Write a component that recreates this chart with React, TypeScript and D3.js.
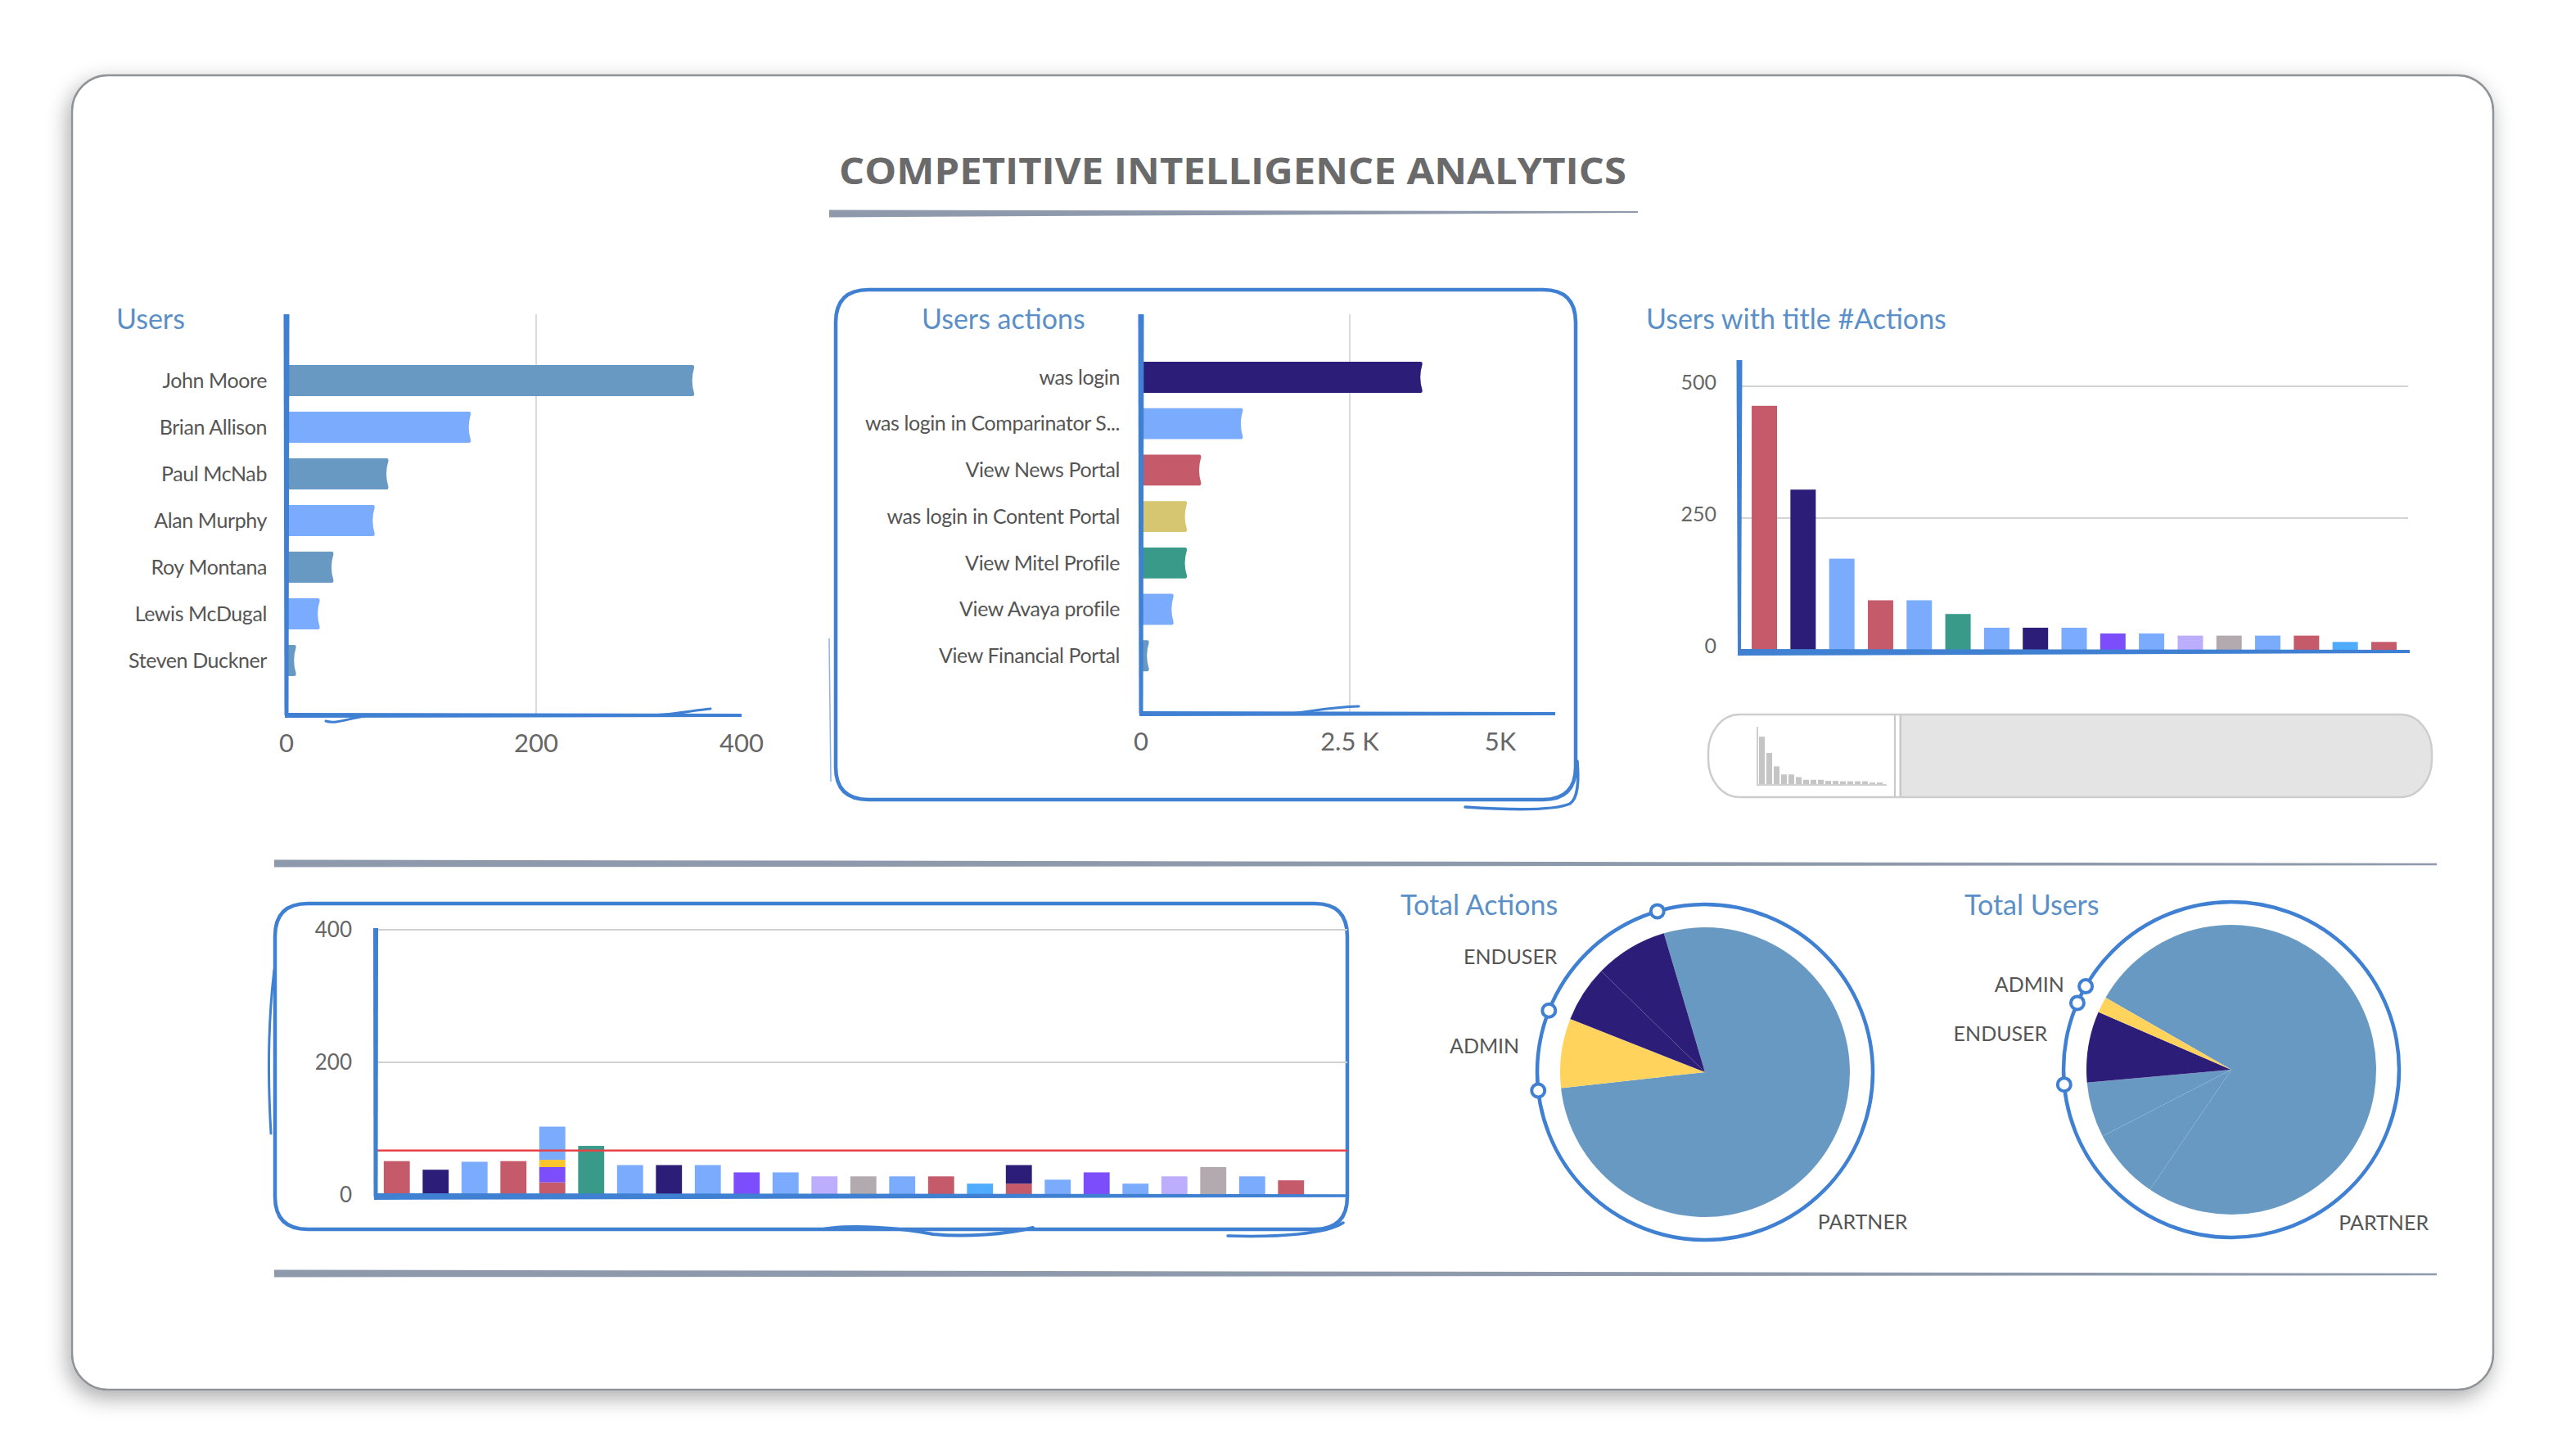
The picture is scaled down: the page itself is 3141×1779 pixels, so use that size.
import React from "react";
import * as d3 from "d3";

// ---------- data ----------
const userNames = ["John Moore", "Brian Allison", "Paul McNab", "Alan Murphy", "Roy Montana", "Lewis McDugal", "Steven Duckner"];
const userActionCounts = [326, 147, 81, 70, 37, 26, 7];
const userColorKeys = ["steel", "light", "steel", "light", "steel", "light", "steel"];
const userTickValues = [0, 200, 400];

const actionNames = ["was login", "was login in Comparinator S...", "View News Portal", "was login in Content Portal", "View Mitel Profile", "View Avaya profile", "View Financial Portal"];
const actionCounts = [3360, 1210, 710, 540, 540, 380, 85];
const actionColorKeys = ["navy", "light", "red", "mustard", "teal", "light", "steel"];
const actionTickValues = [0, 2500, 5000];
const actionTickLabels = ["0", "2.5 K", "5K"];

const titledUserValues = [463, 304, 173, 94, 94, 68, 42, 42, 42, 31, 31, 27, 27, 27, 27, 15, 15];
const titledUserColorKeys = ["red", "navy", "light", "red", "light", "teal", "light", "navy", "light", "purple", "light", "lavender", "gray", "light", "red", "sky", "red"];
const titledTickValues = [0, 250, 500];

const dailySegments = [[51], [38], [50], [51], [19, 23, 11, 50], [74], [45], [45], [45], [34], [34], [28], [28], [28], [28], [17], [17, 28], [23], [34], [17], [28], [42], [28], [22]];
const dailySegmentColors = [["red"], ["navy"], ["light"], ["red"], ["red", "purple", "amber", "light"], ["teal"], ["light"], ["navy"], ["light"], ["purple"], ["light"], ["lavender"], ["gray"], ["light"], ["red"], ["sky"], ["red", "navy"], ["light"], ["purple"], ["light"], ["lavender"], ["gray"], ["light"], ["red"]];
const dailyTickValues = [0, 200, 400];
const dailyThreshold = 67;

const actionRoles = ["PARTNER", "ADMIN", "ENDUSER", "ENDUSER"];
const actionRoleTotals = [5310, 527, 430, 555];
const userRoles = ["PARTNER", "PARTNER", "PARTNER", "ENDUSER", "ADMIN"];
const userRoleTotals = [173, 18, 14, 18, 4];

// ---------- styles ----------
const palette: Record<string, string> = {
  red: "#c55a6a", navy: "#2c1d78", light: "#7aabfd", steel: "#6899c3",
  teal: "#3a9a89", purple: "#7b4dfb", lavender: "#bcadfd", gray: "#b3aaaf",
  sky: "#4fabfe", amber: "#fcc52c", mustard: "#d7c671", yellow: "#ffd35c",
};
const roleColor: Record<string, string> = { PARTNER: "#6899c3", ADMIN: "#ffd35c", ENDUSER: "#2c1d78" };
const BLUE = "#3f80d2";
const FONT = "Lato, 'Open Sans', sans-serif";
const TITLE_COLOR = "#5a8fc7";
const LABEL_COLOR = "#555555";
const TICK_COLOR = "#666666";

function taper(x1: number, y1: number, x2: number, y2: number, w1: number, w2: number) {
  return `M${x1},${y1 - w1 / 2} L${x2},${y2 - w2 / 2} L${x2},${y2 + w2 / 2} L${x1},${y1 + w1 / 2} Z`;
}
function vtaper(x1: number, y1: number, x2: number, y2: number, w1: number, w2: number) {
  return `M${x1 - w1 / 2},${y1} L${x1 + w1 / 2},${y1} L${x2 + w2 / 2},${y2} L${x2 - w2 / 2},${y2} Z`;
}
function roundedPath(x: number, y: number, w: number, h: number, r: number) {
  return `M${x + r},${y} H${x + w - r} Q${x + w},${y} ${x + w},${y + r} V${y + h - r} Q${x + w},${y + h} ${x + w - r},${y + h} H${x + r} Q${x},${y + h} ${x},${y + h - r} V${y + r} Q${x},${y} ${x + r},${y} Z`;
}
function hbarPath(x0: number, x1: number, y: number, h: number) {
  const e = Math.max(x1, x0 + 4);
  return `M${x0},${y} H${e - 1} Q${e + 1},${y} ${e + 1},${y + 3} Q${e - 4},${y + h / 2} ${e + 1},${y + h - 3} Q${e + 1},${y + h} ${e - 1},${y + h} H${x0} Z`;
}

// ---------- horizontal bar chart ----------
function HBarChart(props: {
  names: string[]; values: number[]; colorKeys: string[];
  x0: number; xMaxPx: number; domainMax: number; axisEnd: number;
  yTop: number; yBottom: number; bandTop: number; bandBottom: number;
  labelX: number; ticks: number[]; tickLabels: string[]; lastTickInset: number;
}) {
  const { names, values, colorKeys, x0, xMaxPx, domainMax, axisEnd, yTop, yBottom, bandTop, bandBottom, labelX, ticks, tickLabels, lastTickInset } = props;
  const x = d3.scaleLinear().domain([0, domainMax]).range([x0, xMaxPx]);
  const y = d3.scaleBand<string>().domain(names).range([bandTop, bandBottom]).paddingInner(0.333).paddingOuter(0.1667);
  return (
    <g>
      {ticks.slice(1, -1).map((t) => (
        <line key={"g" + t} x1={x(t)} x2={x(t)} y1={yTop} y2={yBottom} stroke="#cfcfcf" strokeWidth={1.5} />
      ))}
      {names.map((n, i) => (
        <g key={n}>
          <path d={hbarPath(x0 + 1, x(values[i]), y(n)!, y.bandwidth())} fill={palette[colorKeys[i]]} />
          <text x={labelX} y={y(n)! + y.bandwidth() / 2} dy="0.35em" textAnchor="end" fontFamily={FONT} fontSize={25} fill={LABEL_COLOR} letterSpacing={-0.4}>{n}</text>
        </g>
      ))}
      <path d={vtaper(x0, yTop, x0, yBottom, 7, 5)} fill={BLUE} />
      <path d={taper(x0 - 2, yBottom, axisEnd, yBottom, 6, 4)} fill={BLUE} />
      {ticks.map((t, i) => {
        const px = i === ticks.length - 1 ? Math.min(x(t), axisEnd) - lastTickInset : x(t);
        return (
          <text key={"t" + t} x={px} y={yBottom + 45} textAnchor="middle" fontFamily={FONT} fontSize={31} fill={TICK_COLOR}>{tickLabels[i]}</text>
        );
      })}
    </g>
  );
}

// ---------- pie ----------
function PieChart(props: { cx: number; cy: number; roles: string[]; values: number[]; startDeg: number; labelAngles: Record<string, number> }) {
  const { cx, cy, roles, values, startDeg, labelAngles } = props;
  const rad = Math.PI / 180;
  const pie = d3.pie<number>().sort(null).value((d) => d).startAngle(startDeg * rad).endAngle((startDeg + 360) * rad);
  const arcs = pie(values);
  const arc = d3.arc<d3.PieArcDatum<number>>().innerRadius(0).outerRadius(177);
  const R = 205;
  const markers: number[] = [];
  arcs.forEach((a, i) => {
    if (roles[i] !== roles[(i + 1) % roles.length]) markers.push(a.endAngle);
  });
  const uniqueRoles = Array.from(new Set(roles));
  return (
    <g>
      <g transform={`translate(${cx},${cy})`}>
        {arcs.map((a, i) => (
          <path key={i} d={arc(a)!} fill={roleColor[roles[i]]} stroke="rgba(255,255,255,0.06)" strokeWidth={0.8} />
        ))}
      </g>
      <circle cx={cx} cy={cy} r={R} fill="none" stroke={BLUE} strokeWidth={4.5} />
      {markers.map((m, i) => (
        <circle key={i} cx={cx + R * Math.sin(m)} cy={cy - R * Math.cos(m)} r={8} fill="#fff" stroke={BLUE} strokeWidth={4} />
      ))}
      {uniqueRoles.map((r) => {
        const a = labelAngles[r] * rad;
        const lx = cx + 229 * Math.sin(a);
        const ly = cy - 229 * Math.cos(a);
        return (
          <text key={r} x={lx} y={ly} dy="0.35em" textAnchor={Math.sin(a) < 0 ? "end" : "start"} fontFamily={FONT} fontSize={25} fill={LABEL_COLOR}>{r}</text>
        );
      })}
    </g>
  );
}

export default function App() {
  // Users with title chart
  const tx = d3.scaleBand<number>().domain(titledUserValues.map((_, i) => i)).range([2132, 2936]).paddingInner(0.345).paddingOuter(0.17);
  const ty = d3.scaleLinear().domain([0, 500]).range([794, 472]);
  // mini chart
  const mx = d3.scaleBand<number>().domain(titledUserValues.map((_, i) => i)).range([2149, 2300]).paddingInner(0.22);
  const my = d3.scaleLinear().domain([0, 560]).range([958, 888]);
  // daily chart
  const dx = d3.scaleBand<number>().domain(dailySegments.map((_, i) => i)).range([461, 1601]).paddingInner(0.33).paddingOuter(0.165);
  const dy = d3.scaleLinear().domain([0, 400]).range([1460, 1136]);

  return (
    <svg width={3141} height={1779} style={{ position: "absolute", left: 0, top: 0, display: "block" }} xmlns="http://www.w3.org/2000/svg">
      <defs>
        <filter id="cardShadow" x="-5%" y="-8%" width="110%" height="118%">
          <feDropShadow dx={-4} dy={9} stdDeviation={13} floodColor="#000" floodOpacity={0.33} />
        </filter>
        <clipPath id="sliderClip">
          <rect x={2087} y={873} width={884} height={101} rx={38} ry={46} />
        </clipPath>
      </defs>
      <rect x={0} y={0} width={3141} height={1779} fill="#fff" />
      <rect x={88} y={92} width={2958} height={1606} rx={44} ry={44} fill="#fff" stroke="#8f9296" strokeWidth={2.5} filter="url(#cardShadow)" />

      {/* header */}
      <text x={1506} y={225} textAnchor="middle" fontFamily="'Open Sans', sans-serif" fontWeight={700} fontSize={45} fill="#6a6a6a" textLength={962} lengthAdjust="spacingAndGlyphs">COMPETITIVE INTELLIGENCE ANALYTICS</text>
      <path d={taper(1013, 261, 2001, 259, 9, 2)} fill="#8e9aab" />
      <path d={taper(335, 1055, 2977, 1056, 9, 2.5)} fill="#8e9aab" />
      <path d={taper(335, 1556, 2977, 1557, 9, 2.5)} fill="#8e9aab" />

      {/* Users */}
      <text x={142} y={402} fontFamily={FONT} fontSize={34} fill={TITLE_COLOR}>Users</text>
      <HBarChart names={userNames} values={userActionCounts} colorKeys={userColorKeys}
        x0={350} xMaxPx={960} domainMax={400} axisEnd={906} yTop={384} yBottom={874}
        bandTop={436.5} bandBottom={835.5} labelX={326} ticks={userTickValues}
        tickLabels={userTickValues.map(String)} lastTickInset={0} />
      <path d="M398,881 C410,885 425,878 446,875" fill="none" stroke={BLUE} strokeWidth={3} strokeLinecap="round" />
      <path d="M790,874 C820,874 845,868 868,866" fill="none" stroke={BLUE} strokeWidth={3} strokeLinecap="round" />

      {/* Users actions */}
      <path d={roundedPath(1021, 354, 904, 623, 40)} fill="none" stroke={BLUE} strokeWidth={4.5} />
      <path d="M1790,986 C1850,990 1900,990 1918,982 C1928,975 1929,955 1927,930" fill="none" stroke={BLUE} strokeWidth={3.5} strokeLinecap="round" />
      <path d="M1013,780 L1015,955" fill="none" stroke={BLUE} strokeWidth={1.5} opacity={0.6} />
      <text x={1126} y={402} fontFamily={FONT} fontSize={34} fill={TITLE_COLOR}>Users actions</text>
      <HBarChart names={actionNames} values={actionCounts} colorKeys={actionColorKeys}
        x0={1394} xMaxPx={1904} domainMax={5000} axisEnd={1900} yTop={384} yBottom={872}
        bandTop={432.6} bandBottom={829.6} labelX={1368} ticks={actionTickValues}
        tickLabels={actionTickLabels} lastTickInset={67} />
      <path d="M1575,872 C1600,870 1622,864 1660,863" fill="none" stroke={BLUE} strokeWidth={3} strokeLinecap="round" />

      {/* Users with title #Actions */}
      <text x={2011} y={402} fontFamily={FONT} fontSize={34} fill={TITLE_COLOR}>Users with title #Actions</text>
      {titledTickValues.map((t) => (
        <g key={t}>
          {t > 0 && <line x1={2127} x2={2942} y1={ty(t)} y2={ty(t)} stroke="#d3d3d3" strokeWidth={2} />}
          <text x={2097} y={ty(t) - 5} dy="0.35em" textAnchor="end" fontFamily={FONT} fontSize={25} fill={TICK_COLOR}>{t}</text>
        </g>
      ))}
      {titledUserValues.map((v, i) => (
        <rect key={i} x={tx(i)} y={ty(v)} width={tx.bandwidth()} height={ty(0) - ty(v)} fill={palette[titledUserColorKeys[i]]} />
      ))}
      <path d={vtaper(2125, 440, 2125, 796, 7, 4)} fill={BLUE} />
      <path d={taper(2123, 797, 2944, 796, 8, 4)} fill={BLUE} />

      {/* slider */}
      <rect x={2087} y={873} width={884} height={101} rx={38} ry={46} fill="#fff" />
      <rect x={2320} y={873} width={660} height={101} fill="#e4e4e4" clipPath="url(#sliderClip)" />
      <rect x={2087} y={873} width={884} height={101} rx={38} ry={46} fill="none" stroke="#cdcdcd" strokeWidth={2.5} />
      <line x1={2315} x2={2315} y1={874} y2={973} stroke="#c9c9c9" strokeWidth={2} />
      <line x1={2322} x2={2322} y1={874} y2={973} stroke="#c9c9c9" strokeWidth={2} />
      {titledUserValues.map((v, i) => (
        <rect key={i} x={mx(i)} y={my(v)} width={mx.bandwidth()} height={my(0) - my(v)} fill="#c5c5c5" />
      ))}
      <line x1={2147} x2={2147} y1={888} y2={959} stroke="#cfcfcf" strokeWidth={2} />
      <line x1={2146} x2={2305} y1={959} y2={959} stroke="#cfcfcf" strokeWidth={2} />

      {/* daily stacked chart */}
      <path d={roundedPath(336, 1104, 1310, 398, 40)} fill="none" stroke={BLUE} strokeWidth={4.5} />
      <path d="M335,1185 C329,1235 326,1300 331,1385" fill="none" stroke={BLUE} strokeWidth={3} strokeLinecap="round" />
      <path d="M1005,1502 C1040,1496 1100,1500 1140,1508 C1180,1512 1230,1508 1262,1500" fill="none" stroke={BLUE} strokeWidth={4} strokeLinecap="round" />
      <path d="M1500,1510 C1560,1512 1620,1508 1641,1494" fill="none" stroke={BLUE} strokeWidth={3.5} strokeLinecap="round" />
      {dailyTickValues.map((t) => (
        <g key={t}>
          {t > 0 && <line x1={459} x2={1646} y1={dy(t)} y2={dy(t)} stroke="#d0d0d0" strokeWidth={2} />}
          <text x={430} y={dy(t)} dy="0.35em" textAnchor="end" fontFamily={FONT} fontSize={26} fill={TICK_COLOR}>{t}</text>
        </g>
      ))}
      {dailySegments.map((segs, i) => {
        let acc = 0;
        return (
          <g key={i}>
            {segs.map((s, j) => {
              const y0 = acc;
              acc += s;
              return <rect key={j} x={dx(i)} y={dy(acc)} width={dx.bandwidth()} height={dy(y0) - dy(acc)} fill={palette[dailySegmentColors[i][j]]} />;
            })}
          </g>
        );
      })}
      <line x1={459} x2={1646} y1={dy(dailyThreshold)} y2={dy(dailyThreshold)} stroke="#e8414a" strokeWidth={2.5} />
      <path d={vtaper(459, 1134, 459, 1462, 6, 5)} fill={BLUE} />
      <path d={taper(457, 1462, 1646, 1461, 8, 3.5)} fill={BLUE} />

      {/* pies */}
      <text x={1711} y={1118} fontFamily={FONT} fontSize={34} fill={TITLE_COLOR}>Total Actions</text>
      <PieChart cx={2083} cy={1310} roles={actionRoles} values={actionRoleTotals} startDeg={-16.5}
        labelAngles={{ ENDUSER: -52, ADMIN: -82, PARTNER: 143 }} />
      <text x={2400} y={1118} fontFamily={FONT} fontSize={34} fill={TITLE_COLOR}>Total Users</text>
      <PieChart cx={2726} cy={1307} roles={userRoles} values={userRoleTotals} startDeg={-60.2}
        labelAngles={{ ADMIN: -63, ENDUSER: -79, PARTNER: 145 }} />
    </svg>
  );
}
